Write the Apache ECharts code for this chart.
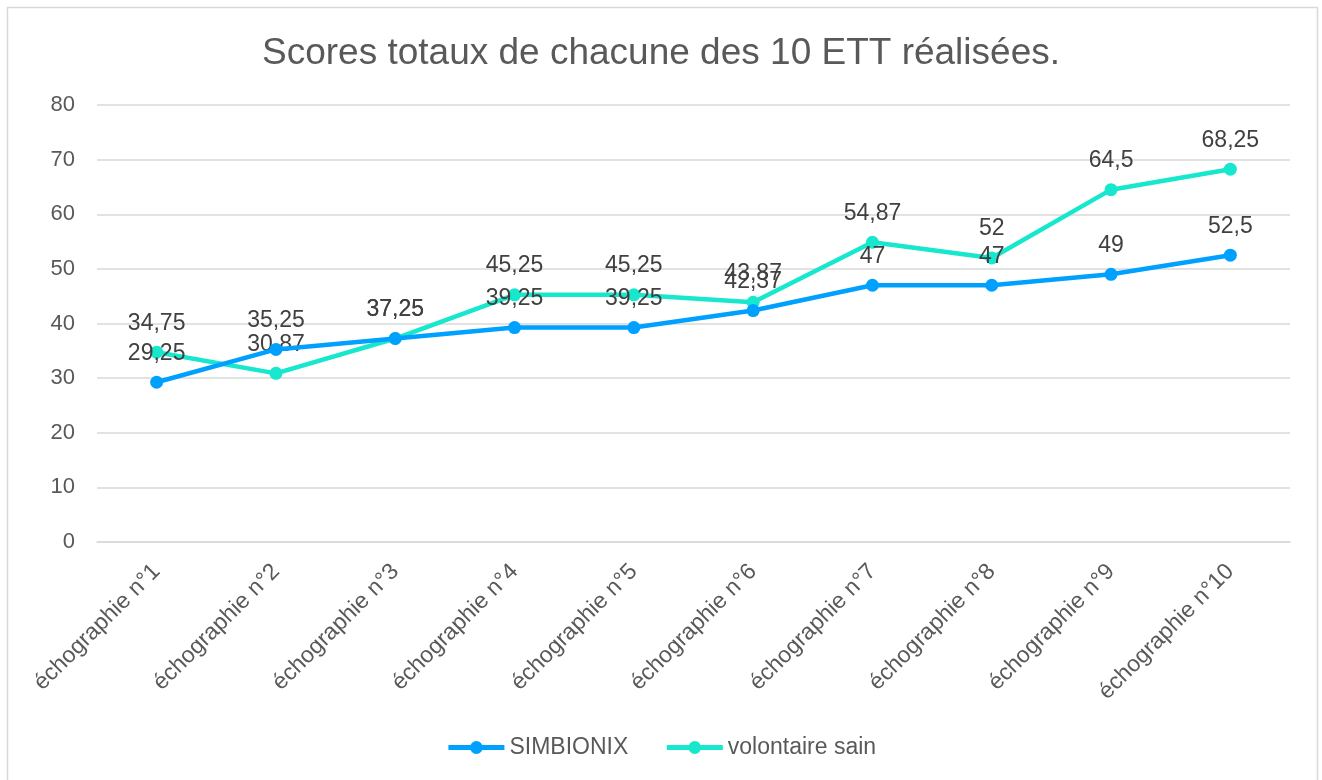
<!DOCTYPE html>
<html><head><meta charset="utf-8">
<script src="https://cdn.jsdelivr.net/npm/echarts@6/dist/echarts.min.js"></script>
<style>html,body{margin:0;padding:0;background:#fff}#c{width:1322px;height:780px}</style>
</head><body><div id="c"></div>
<script>
var categories = ["échographie n°1","échographie n°2","échographie n°3","échographie n°4","échographie n°5","échographie n°6","échographie n°7","échographie n°8","échographie n°9","échographie n°10"];
var simbionix = [29.25, 35.25, 37.25, 39.25, 39.25, 42.37, 47, 47, 49, 52.5];
var volontaire = [34.75, 30.87, 37.25, 45.25, 45.25, 43.87, 54.87, 52, 64.5, 68.25];
var yTicks = {min: 0, max: 80, interval: 10};

var font = "'Liberation Sans', Arial, sans-serif";
var chart = echarts.init(document.getElementById('c'));
function lbl(p){ return String(p.value).replace('.', ','); }
function mk(name, data, color){
  return {
    name: name, type: 'line', data: data,
    symbol: 'circle', symbolSize: 13,
    lineStyle: {width: 4.5, color: color},
    itemStyle: {color: color},
    label: {show: true, position: 'top', distance: 11, formatter: lbl,
      color: '#404040', fontSize: 23, fontFamily: font},
    z: name === 'SIMBIONIX' ? 3 : 2
  };
}
chart.setOption({
  animation: false,
  backgroundColor: '#fff',
  graphic: [{type: 'rect', shape: {x: 7.5, y: 7.5, width: 1310, height: 790},
    style: {fill: 'none', stroke: '#d9d9d9', lineWidth: 1.5}, silent: true}],
  title: {text: 'Scores totaux de chacune des 10 ETT réalisées.', left: 'center', top: 30,
    textStyle: {color: '#595959', fontSize: 37, fontWeight: 'normal', fontFamily: font}},
  legend: {bottom: 16, left: 'center', itemWidth: 56, itemHeight: 16, itemGap: 36,
    lineStyle: {width: 5},
    textStyle: {color: '#595959', fontSize: 23, fontFamily: font},
    data: ['SIMBIONIX', 'volontaire sain']},
  grid: {left: 97, right: 32, top: 105, bottom: 238, containLabel: false},
  xAxis: {type: 'category', data: categories, boundaryGap: true,
    axisLine: {lineStyle: {color: '#d9d9d9', width: 1.5}},
    axisTick: {show: false},
    axisLabel: {rotate: 45, color: '#595959', fontSize: 23, fontFamily: font, margin: 26, interval: 0}},
  yAxis: {type: 'value', min: yTicks.min, max: yTicks.max, interval: yTicks.interval,
    axisLine: {show: false}, axisTick: {show: false},
    splitLine: {lineStyle: {color: '#d9d9d9', width: 1.5}},
    axisLabel: {color: '#595959', fontSize: 22, fontFamily: font, margin: 22}},
  series: [mk('SIMBIONIX', simbionix, '#00A0FF'), mk('volontaire sain', volontaire, '#17E8CD')]
});
</script></body></html>
